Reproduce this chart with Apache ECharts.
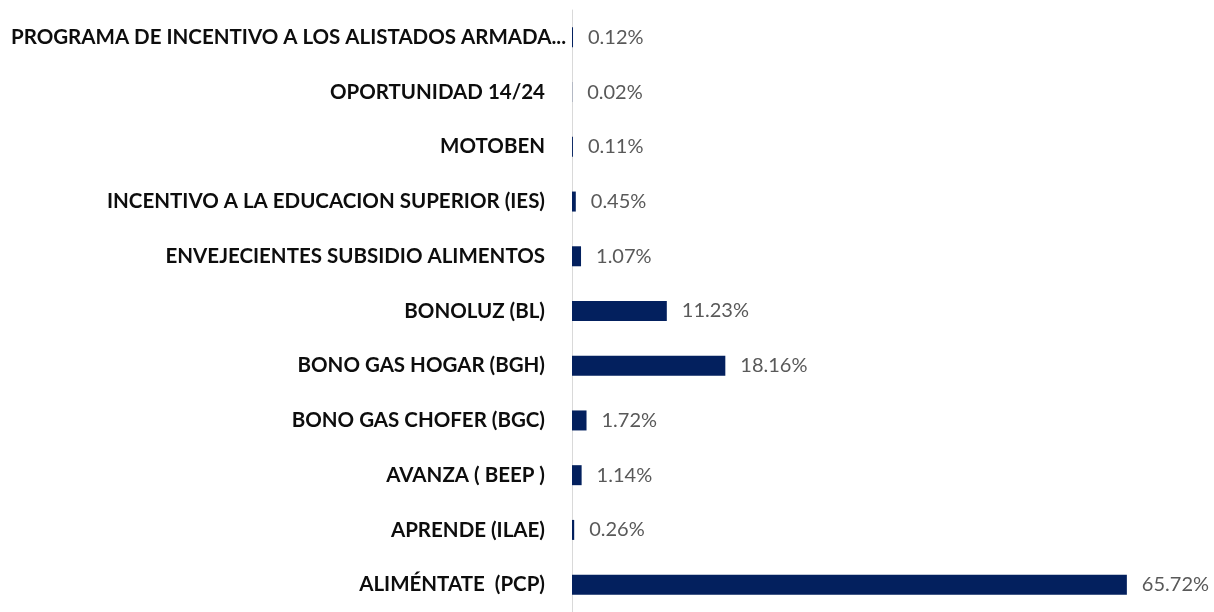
<html>
<head>
<meta charset="utf-8">
<script src="https://cdn.jsdelivr.net/npm/echarts@6/dist/echarts.min.js"></script>
<style>
  html, body { margin: 0; padding: 0; background: #fff; }
  #container { width: 1214px; height: 612px; }
</style>
</head>
<body>
<div id="container"></div>
<script>
  // bottom to top, same order as the chart
  const categories = [
    'ALIMÉNTATE  (PCP)',
    'APRENDE (ILAE)',
    'AVANZA ( BEEP )',
    'BONO GAS CHOFER (BGC)',
    'BONO GAS HOGAR (BGH)',
    'BONOLUZ (BL)',
    'ENVEJECIENTES SUBSIDIO ALIMENTOS',
    'INCENTIVO A LA EDUCACION SUPERIOR (IES)',
    'MOTOBEN',
    'OPORTUNIDAD 14/24',
    'PROGRAMA DE INCENTIVO A LOS ALISTADOS ARMADA...'
  ];
  const shares = [65.72, 0.26, 1.14, 1.72, 18.16, 11.23, 1.07, 0.45, 0.11, 0.02, 0.12];

  let mychart = echarts.init(document.getElementById('container'));

  var option = {
    animation: false,
    grid: { left: 572, right: 51, top: 10, bottom: -8, containLabel: false },
    xAxis: {
      type: 'value',
      min: 0,
      max: 70,
      show: false
    },
    yAxis: {
      type: 'category',
      data: categories,
      axisLine: { show: true, lineStyle: { color: '#d9d9d9', width: 1 } },
      axisTick: { show: false },
      axisLabel: {
        margin: 6,
        formatter: function (v, i) {
          return i === categories.length - 1 ? '{a|' + v + '}' : '{b|' + v + '}';
        },
        rich: {
          a: { fontFamily: 'Lato', fontWeight: 'bold', fontSize: 20.5, color: '#0d0d0d' },
          b: { fontFamily: 'Lato', fontWeight: 'bold', fontSize: 20.5, color: '#0d0d0d', padding: [0, 21, 0, 0] }
        }
      }
    },
    series: [{
      type: 'bar',
      data: shares,
      barWidth: 20,
      itemStyle: { color: '#03205e' },
      label: {
        show: true,
        position: 'right',
        distance: 15,
        formatter: function (p) { return p.value.toFixed(2) + '%'; },
        fontFamily: 'Lato',
        fontSize: 20,
        color: '#595959'
      }
    }]
  };

  mychart.setOption(option);
</script>
</body>
</html>
